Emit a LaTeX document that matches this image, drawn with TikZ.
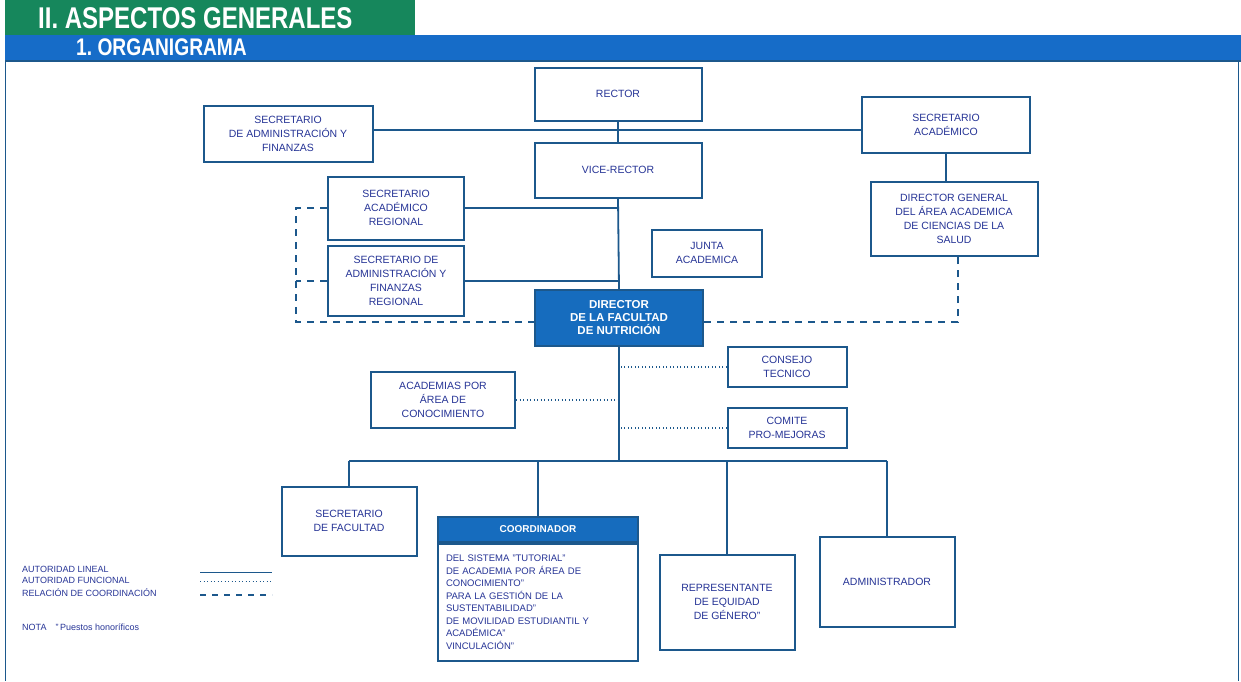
\documentclass[tikz,border=0pt]{standalone}
\usepackage{fontspec}
\setmainfont{Liberation Sans}
\newfontfamily\narrowfont[FakeStretch=0.8]{Liberation Sans}
\usetikzlibrary{positioning}
\definecolor{linecol}{RGB}{28,88,140}
\definecolor{txtcol}{RGB}{38,52,150}
\definecolor{dirfill}{RGB}{22,108,190}
\definecolor{barblue}{RGB}{22,108,200}
\definecolor{tabgreen}{RGB}{22,135,92}
\begin{document}
\begin{tikzpicture}[x=1pt,y=-1pt]
    \tikzstyle{every node}+=[inner sep=2pt]
    \tikzstyle{box}=[draw=linecol, line width=2pt, fill=white, text=txtcol, align=center,
        font=\fontsize{10.5}{14}\selectfont]
    \tikzstyle{dirbox}=[box, fill=dirfill, text=white, font=\fontsize{11.5}{13}\selectfont\bfseries]
    \tikzstyle{lineal}=[draw=linecol, line width=1.8pt]
    \tikzstyle{coordrel}=[draw=linecol, line width=1.6pt, dash pattern=on 7pt off 6pt]
    \tikzstyle{func}=[draw=linecol, line width=1.2pt, dash pattern=on 1pt off 2.5pt]
    \tikzstyle{legtext}=[anchor=west, text=txtcol, inner sep=0pt, font=\fontsize{9}{9}\selectfont]
    \useasboundingbox (0,0) rectangle (1241,681);
    % encabezado
    \fill [tabgreen] (5,0) rectangle (415,36);
    \fill [barblue] (5,35) rectangle (1241,61);
    \draw [linecol, line width=1.2pt] (5,61) -- (1241,61);
    \draw [linecol, line width=1pt] (5,61) -- (5,681);
    \draw [linecol, line width=1pt] (1238,61) -- (1238,681);
    \node (titulo) [anchor=west, text=white, inner sep=0pt, font=\narrowfont\fontsize{30}{30}\selectfont\bfseries] at (38,18) {II.\ ASPECTOS GENERALES};
    \node (subtitulo) [anchor=west, text=white, inner sep=0pt, font=\narrowfont\fontsize{24}{24}\selectfont\bfseries] at (76,47) {1.\ ORGANIGRAMA};
    % puestos
    \node (rector) [box, minimum width=167pt, minimum height=53pt] at (618,94) {RECTOR};
    \node (secadm) [box, minimum width=169pt, minimum height=56pt] at (288,134) {SECRETARIO\\DE ADMINISTRACIÓN Y\\FINANZAS};
    \node (secacad) [box, minimum width=168pt, minimum height=56pt] at (946,125) {SECRETARIO\\ACADÉMICO};
    \node (vice) [box, minimum width=167pt, minimum height=55pt] at (618,170) {VICE-RECTOR};
    \node (sacreg) [box, minimum width=136pt, minimum height=63pt] at (396,208) {SECRETARIO\\ACADÉMICO\\REGIONAL};
    \node (sadreg) [box, minimum width=136pt, minimum height=70pt] at (396,281) {SECRETARIO DE\\ADMINISTRACIÓN Y\\FINANZAS\\REGIONAL};
    \node (junta) [box, minimum width=110pt, minimum height=47pt] at (707,253) {JUNTA\\ACADEMICA};
    \node (dirgen) [box, minimum width=167pt, minimum height=74pt] at (954,219) {DIRECTOR GENERAL\\DEL ÁREA ACADEMICA\\DE CIENCIAS DE LA\\SALUD};
    \node (director) [dirbox, minimum width=168pt, minimum height=56pt] at (619,318) {DIRECTOR\\DE LA FACULTAD\\DE NUTRICIÓN};
    \node (consejo) [box, minimum width=119pt, minimum height=40pt] at (787,367) {CONSEJO\\TECNICO};
    \node (academias) [box, minimum width=144pt, minimum height=56pt] at (443,400) {ACADEMIAS POR\\ÁREA DE\\CONOCIMIENTO};
    \node (comite) [box, minimum width=119pt, minimum height=40pt] at (787,428) {COMITE\\PRO-MEJORAS};
    \node (secfac) [box, minimum width=135pt, minimum height=69pt] at (349,521) {SECRETARIO\\DE FACULTAD};
    \node (coordhead) [dirbox, minimum width=200pt, minimum height=25pt, font=\fontsize{10}{10}\selectfont\bfseries] at (538,529) {COORDINADOR};
    \node (coordbody) [box, below=0pt of coordhead, minimum width=200pt, minimum height=117pt, text width=184pt, align=left,
        font=\fontsize{9.5}{12.5}\selectfont] {DEL SISTEMA "TUTORIAL"\\DE ACADEMIA POR ÁREA DE\\CONOCIMIENTO"\\PARA LA GESTIÓN DE LA\\SUSTENTABILIDAD"\\DE MOVILIDAD ESTUDIANTIL Y\\ACADÉMICA"\\VINCULACIÓN"};
    \node (repre) [box, minimum width=135pt, minimum height=95pt] at (727,602) {REPRESENTANTE\\DE EQUIDAD\\DE GÉNERO"};
    \node (admin) [box, minimum width=135pt, minimum height=90pt] at (887,582) {ADMINISTRADOR};
    % autoridad lineal
    \coordinate (rv) at (618,130);
    \coordinate (bus) at (619,461);
    \draw [lineal] (rector.south) -- (vice.north);
    \draw [lineal] (secadm.east |- rv) -- (secacad.west |- rv);
    \draw [lineal] (secacad.south) -- (secacad.south |- dirgen.north);
    \draw [lineal] (vice.south) -- (director.north);
    \draw [lineal] (sacreg.east) -- (sacreg.east -| director.north);
    \draw [lineal] (sadreg.east) -- (sadreg.east -| director.north);
    \draw [lineal] (director.south) -- (bus);
    \draw [lineal] (secfac.north |- bus) -- (admin.north |- bus);
    \draw [lineal] (secfac.north |- bus) -- (secfac.north);
    \draw [lineal] (coordhead.north |- bus) -- (coordhead.north);
    \draw [lineal] (repre.north |- bus) -- (repre.north);
    \draw [lineal] (admin.north |- bus) -- (admin.north);
    % relacion de coordinacion
    \coordinate (dl) at (296,322);
    \coordinate (dr) at (958,322);
    \draw [coordrel] (sacreg.west) -| (dl) -- (director.west |- dl);
    \draw [coordrel] (sadreg.west) -- (sadreg.west -| dl);
    \draw [coordrel] (director.east |- dr) -- (dr) -- (dr |- dirgen.south);
    % autoridad funcional
    \draw [func] (consejo.west) -- (consejo.west -| bus);
    \draw [func] (academias.east) -- (academias.east -| bus);
    \draw [func] (comite.west) -- (comite.west -| bus);
    % simbologia
    \node (leglin) [legtext] at (22,569) {AUTORIDAD LINEAL};
    \node (legfun) [legtext] at (22,580) {AUTORIDAD FUNCIONAL};
    \node (legrel) [legtext] at (22,593) {RELACIÓN DE COORDINACIÓN};
    \node (nota) [legtext] at (22,627) {NOTA\quad"\,Puestos honoríficos};
    \coordinate (l1a) at (200,572); \coordinate (l1b) at (272,572);
    \coordinate (l2a) at (200,581); \coordinate (l2b) at (272,581);
    \coordinate (l3a) at (200,595); \coordinate (l3b) at (272,595);
    \draw [lineal, line width=1pt] (l1a) -- (l1b);
    \draw [func, line width=0.8pt] (l2a) -- (l2b);
    \draw [coordrel, line width=1.2pt, dash pattern=on 6pt off 6pt] (l3a) -- (l3b);
\end{tikzpicture}
\end{document}
